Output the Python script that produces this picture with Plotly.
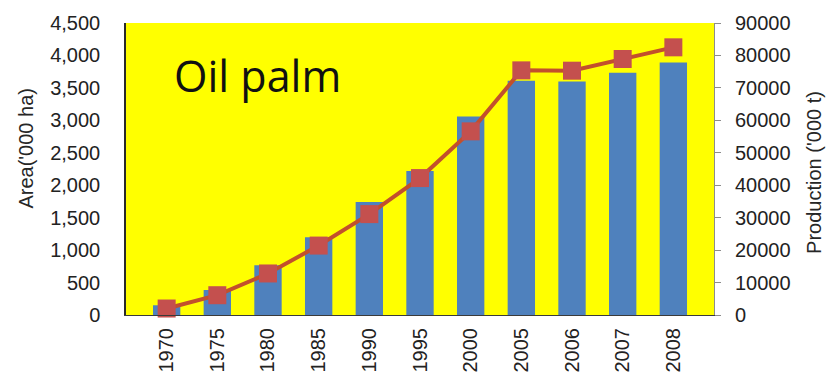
import plotly.graph_objects as go

# Oil palm: harvested area (bars, left axis) and production (line, right axis)
years = ["1970", "1975", "1980", "1985", "1990", "1995", "2000", "2005", "2006", "2007", "2008"]
area_kha = [150, 385, 765, 1200, 1740, 2220, 3060, 3610, 3600, 3735, 3890]
production_kt = [2000, 6100, 12800, 21400, 31100, 42200, 56600, 75400, 75300, 78900, 82500]

left_ticks = list(range(0, 4501, 500))
right_ticks = list(range(0, 90001, 10000))

tick_font = dict(family="Liberation Sans, Arial, sans-serif", size=20, color="#222222")
title_font = dict(family="Liberation Sans, Arial, sans-serif", size=20, color="#262626")

fig = go.Figure()

fig.add_trace(go.Bar(
    x=years, y=area_kha, name="Area",
    marker=dict(color="#4F81BD", line=dict(width=0)),
    yaxis="y",
))

fig.add_trace(go.Scatter(
    x=years, y=production_kt, name="Production",
    mode="lines+markers",
    line=dict(color="#C2502C", width=4),
    marker=dict(symbol="square", size=18, color="#C4504E"),
    yaxis="y2", cliponaxis=False,
))

fig.update_layout(
    width=826, height=391,
    margin=dict(l=126, r=112, t=21, b=76),
    paper_bgcolor="white",
    plot_bgcolor="#FFFF00",
    showlegend=False,
    bargap=0.46,
    xaxis=dict(
        type="category",
        tickangle=-90,
        tickfont=tick_font,
        showgrid=False,
        showline=True, linecolor="#3a3a3a", linewidth=1,
        ticks="",
        ticklabelstandoff=4,
    ),
    yaxis=dict(
        range=[0, 4500],
        tickvals=left_ticks,
        tickformat=",",
        tickfont=tick_font,
        showgrid=False,
        zeroline=False,
        showline=True, linecolor="#2a2a2a", linewidth=1.5,
        ticks="",
        ticklabelstandoff=20,
    ),
    yaxis2=dict(
        range=[0, 90000],
        tickvals=right_ticks,
        tickformat="d",
        tickfont=tick_font,
        overlaying="y",
        side="right",
        showgrid=False,
        zeroline=False,
        showline=True, linecolor="#8c8c8c", linewidth=1,
        ticks="outside", ticklen=6, tickcolor="#8c8c8c",
        ticklabelstandoff=10,
    ),
    annotations=[
        dict(text="Oil palm", xref="paper", yref="paper", x=0.223, y=0.82,
             showarrow=False, xanchor="center", yanchor="middle",
             font=dict(family="Open Sans, Liberation Sans, sans-serif", size=43, color="#111111")),
        dict(text="Area('000 ha)", xref="paper", yref="paper", x=-0.17, y=0.57,
             showarrow=False, textangle=-90, xanchor="center", yanchor="middle",
             font=title_font),
        dict(text="Production ('000 t)", xref="paper", yref="paper", x=1.17, y=0.49,
             showarrow=False, textangle=-90, xanchor="center", yanchor="middle",
             font=title_font),
    ],
)

fig.write_html("out.html")
